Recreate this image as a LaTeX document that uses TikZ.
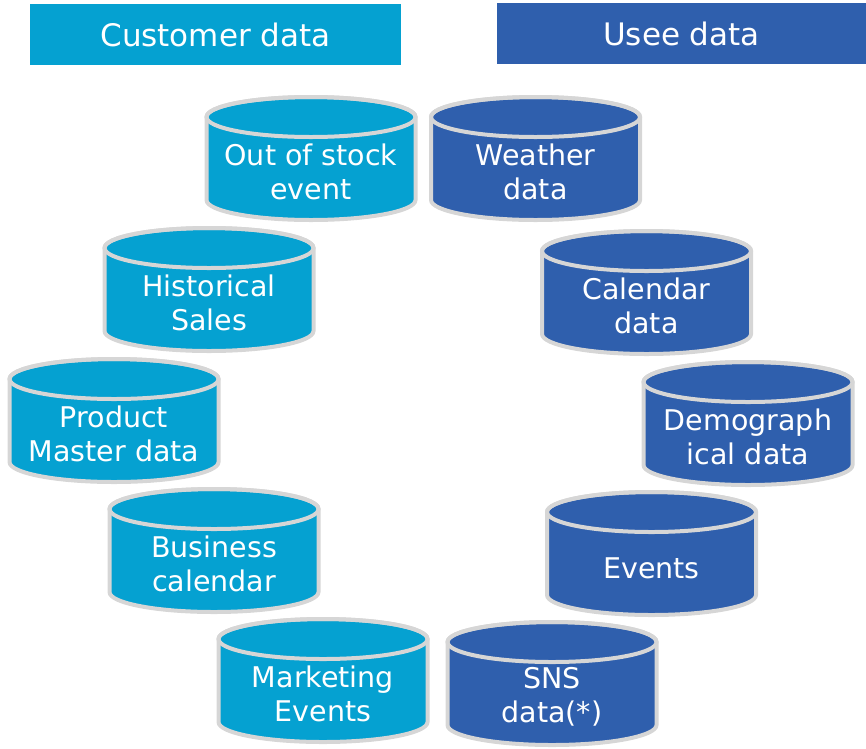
\documentclass[tikz,border=0pt]{standalone}
\usepackage{fontspec}
\setmainfont{DejaVu Sans}
\definecolor{custblue}{RGB}{5,161,209}
\definecolor{useeblue}{RGB}{47,95,173}
\definecolor{rimgray}{RGB}{214,214,214}
\newcommand{\dbdrum}[3]{
 \filldraw[drum,fill=#3] (#1-104.5,#2-41.5) -- (#1-104.5,#2+41.5)
  arc[start angle=180,end angle=0,x radius=104.5,y radius=20] -- (#1+104.5,#2-41.5)
  arc[start angle=0,end angle=-180,x radius=104.5,y radius=20] -- cycle;
 \draw[drum] (#1,#2-41.5) ellipse[x radius=104.5,y radius=20];
}

\begin{document}
\begin{tikzpicture}[x=1pt,y=-1pt,
 head/.style={minimum width=371pt,minimum height=61pt,inner sep=0pt,text=white,font=\fontsize{31}{36}\selectfont},
 drum/.style={draw=rimgray,line width=4pt},
 dbtext/.style={inner sep=0pt,text=white,align=center,font=\fontsize{28.5}{34}\selectfont}]
\useasboundingbox (0,0) rectangle (866,748);
\node[head,fill=custblue] (chead) at (215.5,34.5) {Customer data};
\node[head,fill=useeblue,minimum width=369pt] (uhead) at (681.5,33.5) {Usee data};

\dbdrum{311}{158.5}{custblue}
\dbdrum{209}{289.5}{custblue}
\dbdrum{114}{420.5}{custblue}
\dbdrum{214}{550.5}{custblue}
\dbdrum{323}{680.5}{custblue}
\node[dbtext] (stock) at (311,172) {Out of stock\\event};
\node[dbtext] (sales) at (209,303) {Historical\\Sales};
\node[dbtext] (master) at (114,434) {Product\\Master data};
\node[dbtext] (bizcal) at (214,564) {Business\\calendar};
\node[dbtext] (mkt) at (323,694) {Marketing\\Events};

\dbdrum{535.5}{158.5}{useeblue}
\dbdrum{646.5}{292.5}{useeblue}
\dbdrum{748}{423.5}{useeblue}
\dbdrum{651.5}{553.5}{useeblue}
\dbdrum{552}{683.5}{useeblue}
\node[dbtext] (weather) at (535.5,172) {Weather\\data};
\node[dbtext] (cal) at (646.5,306) {Calendar\\data};
\node[dbtext] (demo) at (748,437) {Demograph\\ical data};
\node[dbtext] (events) at (651.5,568) {Events};
\node[dbtext] (sns) at (552,697) {SNS\\data(*)};
\end{tikzpicture}
\end{document}
